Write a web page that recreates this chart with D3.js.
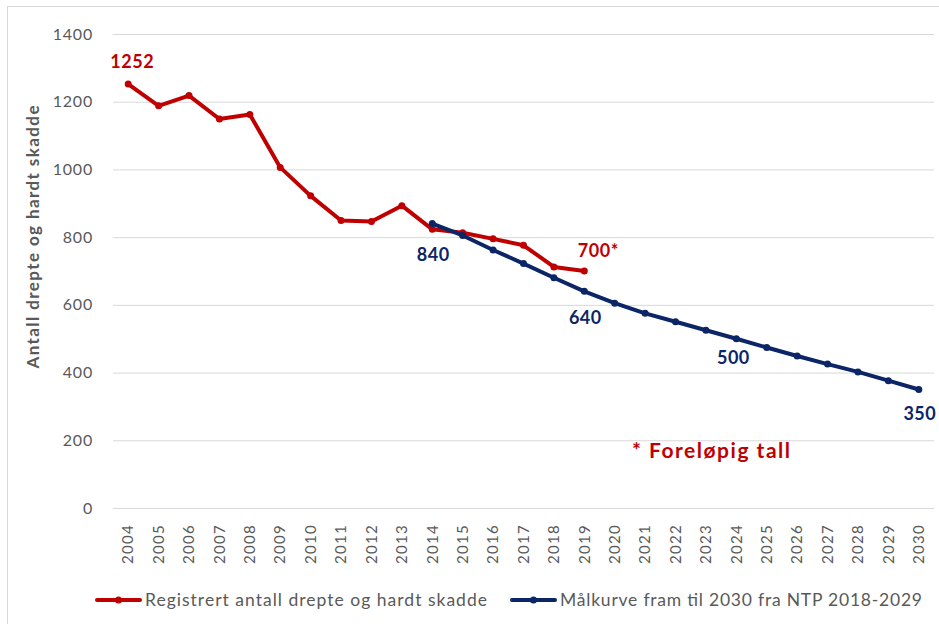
<!DOCTYPE html>
<html>
<head>
<meta charset="utf-8">
<script src="https://cdn.jsdelivr.net/npm/d3@7"></script>
<style>
  body { margin: 0; background: #fff; }
  svg { font-family: Lato, "Open Sans", sans-serif; }
</style>
</head>
<body>
<div id="chart"></div>
<script>
// Data
var years = d3.range(2004, 2031).map(String);
var regYears = ["2004","2005","2006","2007","2008","2009","2010","2011","2012","2013",
  "2014","2015","2016","2017","2018","2019"];
var regValues = [1252, 1188, 1218, 1149, 1162, 1006, 922, 849, 846, 893,
  823, 813, 795, 776, 712, 700];
var goalYears = ["2014","2015","2016","2017","2018","2019","2020","2021","2022",
  "2023","2024","2025","2026","2027","2028","2029","2030"];
var goalValues = [840, 805, 762, 722, 680, 640, 605, 575, 550,
  525, 500, 474, 449, 425, 402, 376, 350];
var yTicks = [0, 200, 400, 600, 800, 1000, 1200, 1400];
var seriesNames = ["Registrert antall drepte og hardt skadde", "Målkurve fram til 2030 fra NTP 2018-2029"];
var pointLabels = [
  { series: 0, year: "2004", text: "1252" },
  { series: 1, year: "2014", text: "840" },
  { series: 0, year: "2019", text: "700*" },
  { series: 1, year: "2019", text: "640" },
  { series: 1, year: "2024", text: "500" },
  { series: 1, year: "2030", text: "350" }
];
var noteText = "* Foreløpig tall";

var svgWidth = 939;
var svgHeight = 624;
var red = "#c00000";
var blue = "#0b2566";
var grey = "#595959";

var plotLeft = 113, plotRight = 934, plotTop = 34, plotBottom = 508;

var svg = d3.select("#chart")
  .append("svg")
  .attr("width", svgWidth)
  .attr("height", svgHeight);

// chart frame
svg.append("rect")
  .attr("x", 7.5).attr("y", 6.5)
  .attr("width", 960).attr("height", 640)
  .attr("fill", "none")
  .attr("stroke", "#d9d9d9");

var x = d3.scaleBand().domain(years).range([plotLeft, plotRight]).padding(0);
var y = d3.scaleLinear().domain([0, 1400]).range([plotBottom, plotTop]);
var cx = function(yr) { return x(yr) + x.bandwidth() / 2; };

// gridlines + y axis labels
var yAxis = d3.axisLeft(y).tickValues(yTicks).tickFormat(d3.format("d"))
  .tickSize(-(plotRight - plotLeft)).tickPadding(20);
var yg = svg.append("g")
  .attr("transform", "translate(" + plotLeft + ",0)")
  .call(yAxis);
yg.select(".domain").remove();
yg.selectAll(".tick line").attr("stroke", "#d9d9d9");
yg.selectAll(".tick text")
  .attr("fill", grey)
  .style("font-size", "16px")
  .style("letter-spacing", "0.8px")
  .style("font-family", "Lato, sans-serif");

// x axis labels (rotated)
var xAxis = d3.axisBottom(x).tickSize(0).tickPadding(0);
var xg = svg.append("g")
  .attr("transform", "translate(0," + plotBottom + ")")
  .call(xAxis);
xg.select(".domain").remove();
xg.selectAll(".tick text")
  .attr("fill", grey)
  .style("font-size", "15px")
  .style("letter-spacing", "1.3px")
  .style("font-family", "Lato, sans-serif")
  .attr("text-anchor", "end")
  .attr("transform", "translate(0,16) rotate(-90)")
  .attr("x", 0)
  .attr("y", 0)
  .attr("dy", "0.35em");

// y axis title
svg.append("text")
  .attr("transform", "translate(39,237) rotate(-90)")
  .attr("text-anchor", "middle")
  .attr("fill", grey)
  .style("font-size", "17px")
  .style("font-weight", "bold")
  .attr("textLength", 263)
  .attr("lengthAdjust", "spacing")
  .text("Antall drepte og hardt skadde");

var line = d3.line()
  .x(function(d) { return cx(d.year); })
  .y(function(d) { return y(d.value); });

var regData = regYears.map(function(yr, i) { return { year: yr, value: regValues[i] }; });
var goalData = goalYears.map(function(yr, i) { return { year: yr, value: goalValues[i] }; });
var allSeries = [regData, goalData];
var colors = [red, blue];

allSeries.forEach(function(data, i) {
  svg.append("path")
    .datum(data)
    .attr("fill", "none")
    .attr("stroke", colors[i])
    .attr("stroke-width", 4)
    .attr("stroke-linejoin", "round")
    .attr("stroke-linecap", "round")
    .attr("d", line);
  svg.selectAll(".pt" + i)
    .data(data)
    .enter()
    .append("circle")
    .attr("class", "pt" + i)
    .attr("cx", function(d) { return cx(d.year); })
    .attr("cy", function(d) { return y(d.value); })
    .attr("r", 3.5)
    .attr("fill", colors[i]);
});

// data labels, offsets relative to the point
var labelOffsets = [[4, -16], [1, 37], [14, -14], [1, 33], [-3, 25], [1, 30]];
pointLabels.forEach(function(lb, i) {
  var data = allSeries[lb.series];
  var pt = data.find(function(d) { return d.year === lb.year; });
  svg.append("text")
    .attr("x", cx(pt.year) + labelOffsets[i][0])
    .attr("y", y(pt.value) + labelOffsets[i][1])
    .attr("text-anchor", "middle")
    .attr("fill", colors[lb.series])
    .style("font-size", "18px")
    .style("font-weight", "bold")
    .style("letter-spacing", "0.5px")
    .text(lb.text);
});

// note
svg.append("text")
  .attr("x", 632)
  .attr("y", 458)
  .attr("fill", red)
  .style("font-size", "21px")
  .style("font-weight", "bold")
  .attr("textLength", 158)
  .attr("lengthAdjust", "spacing")
  .text(noteText);

// legend
var legendX = [97, 512];
var legendTextLen = [342, 362];
seriesNames.forEach(function(name, i) {
  var g = svg.append("g").attr("transform", "translate(" + legendX[i] + ",600)");
  g.append("line")
    .attr("x1", 0).attr("x2", 43)
    .attr("stroke", colors[i])
    .attr("stroke-width", 4)
    .attr("stroke-linecap", "round");
  g.append("circle").attr("cx", 21.5).attr("r", 3.5).attr("fill", colors[i]);
  g.append("text")
    .attr("x", 48)
    .attr("dy", "0.35em")
    .attr("fill", grey)
    .style("font-size", "17.5px")
    .attr("textLength", legendTextLen[i])
    .attr("lengthAdjust", "spacing")
    .text(name);
});
</script>
</body>
</html>
